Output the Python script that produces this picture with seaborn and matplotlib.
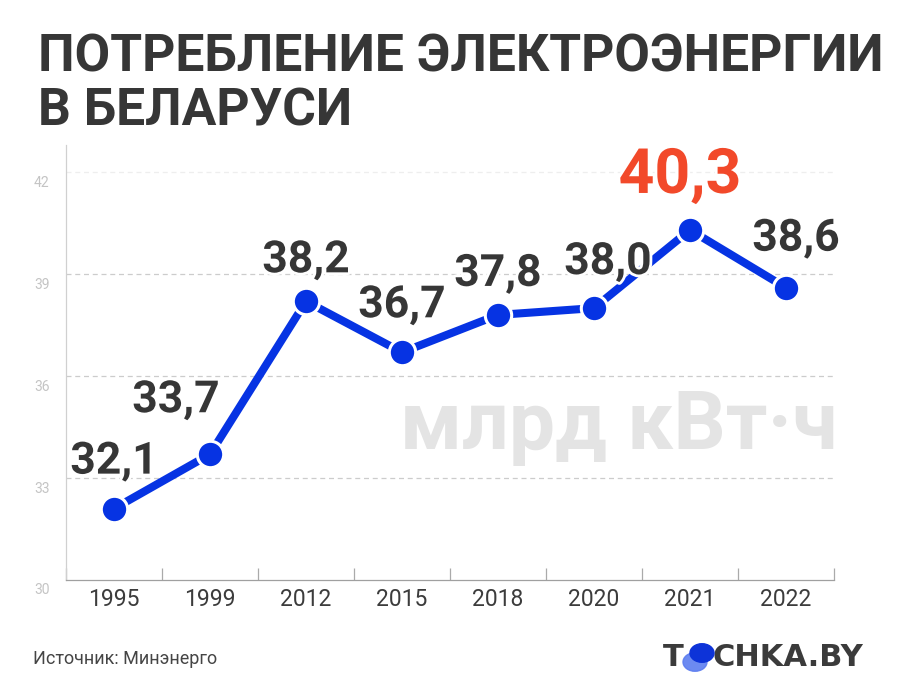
import matplotlib
matplotlib.use('Agg')
import matplotlib.pyplot as plt
import matplotlib.transforms as mtransforms
import matplotlib.patheffects as pe
from matplotlib.patches import Circle
import seaborn as sns
import pandas as pd

# Данные
years = ['1995', '1999', '2012', '2015', '2018', '2020', '2021', '2022']
values = [32.1, 33.7, 38.2, 36.7, 37.8, 38.0, 40.3, 38.6]
labels = ['32,1', '33,7', '38,2', '36,7', '37,8', '38,0', '40,3', '38,6']
# смещение подписей (пиксели)
label_offsets = [(0, 47), (-34, 54), (0, 41), (0, 47), (0, 41), (14, 46), (-10, 54), (10, 49)]
highlight = '2021'
y_ticks = [30, 33, 36, 39, 42]

BLUE = '#0633e3'
RED = '#f2492a'
DARK = '#363636'

W, H = 900, 695
sns.set_theme(style='white')
plt.rcParams['font.family'] = ['Roboto', 'DejaVu Sans']

fig = plt.figure(figsize=(W / 100, H / 100), dpi=100)
fig.patch.set_facecolor('white')
ax = fig.add_axes([66 / W, 1 - 580 / H, (834 - 66) / W, (580 - 145) / H])

df = pd.DataFrame({'year': years, 'value': values})
sns.lineplot(data=df, x='year', y='value', ax=ax, color=BLUE, linewidth=5.8,
             marker='o', markersize=19, markerfacecolor=BLUE,
             markeredgecolor='white', markeredgewidth=2.2, zorder=3)

ax.set_xlim(-0.5, len(years) - 0.5)
ax.set_ylim(30, 42.8)
ax.set_xlabel('')
ax.set_ylabel('')

# сетка
for yv in y_ticks[1:]:
    ax.axhline(yv, color='#eeeeee' if yv == 42 else '#cccccc', lw=0.9,
               ls=(0, (4, 3)), zorder=1)

ax.set_yticks(y_ticks)
ax.set_yticklabels([str(t) for t in y_ticks])
ax.tick_params(axis='y', length=0, labelsize=10, labelcolor='#c4c4c4', pad=12)
shift = mtransforms.ScaledTranslation(0, -9 / 100, fig.dpi_scale_trans)
for lab in ax.get_yticklabels():
    lab.set_transform(lab.get_transform() + shift)

ax.set_xticks(range(len(years)))
ax.set_xticklabels(years)
ax.set_xticks([i - 0.5 for i in range(len(years) + 1)], minor=True)
ax.tick_params(axis='x', which='major', length=0, labelsize=16.5,
               labelcolor='#3c3c3c', pad=6)
ax.tick_params(axis='x', which='minor', direction='in', length=9,
               width=0.9, color='#aaaaaa', bottom=True)

for side in ['top', 'right']:
    ax.spines[side].set_visible(False)
ax.spines['left'].set_color('#d0d0d0')
ax.spines['bottom'].set_color('#a0a0a0')
ax.spines['left'].set_linewidth(0.9)
ax.spines['bottom'].set_linewidth(0.9)

# подписи значений
halo = [pe.withStroke(linewidth=4, foreground='white')]
for i, (yr, v, lab) in enumerate(zip(years, values, labels)):
    dx, dy = label_offsets[i]
    hl = yr == highlight
    ax.annotate(lab, (i, v), xytext=(dx, dy), textcoords='offset pixels',
                ha='center', va='center', fontsize=45 if hl else 32,
                fontweight='bold', color=RED if hl else DARK, zorder=4,
                path_effects=halo)

# единицы измерения
ax.text(1.005, 0.352, 'млрд кВт·ч', transform=ax.transAxes, ha='right',
        va='center', fontsize=59, fontweight='bold', color='#e4e4e4', zorder=0)

# заголовок
fig.text(38 / W, 1 - 57 / H, 'ПОТРЕБЛЕНИЕ ЭЛЕКТРОЭНЕРГИИ', fontsize=37.2,
         fontweight='bold', color=DARK, ha='left', va='center')
fig.text(38 / W, 1 - 111 / H, 'В БЕЛАРУСИ', fontsize=37.2,
         fontweight='bold', color=DARK, ha='left', va='center')

# источник
fig.text(33 / W, 1 - 659 / H, 'Источник: Минэнерго', fontsize=13,
         color='#454545', ha='left', va='center')

# логотип
fig.text(663 / W, 1 - 657 / H, 'T', fontsize=22, fontweight='bold',
         family='DejaVu Sans', color='#3b3b3b', ha='left', va='center')
fig.text(712 / W, 1 - 657 / H, 'CHKA.BY', fontsize=22, fontweight='bold',
         family='DejaVu Sans', color='#3b3b3b', ha='left', va='center')
fig.patches.append(Circle((695 / W, 1 - 662 / H), 12 / W, transform=fig.transFigure,
                          color='#5c7df0', alpha=0.9, zorder=5))
fig.patches.append(Circle((702 / W, 1 - 653 / H), 12 / W, transform=fig.transFigure,
                          color='#0d33d8', zorder=6))

fig.savefig('out.png', dpi=100, facecolor='white')
